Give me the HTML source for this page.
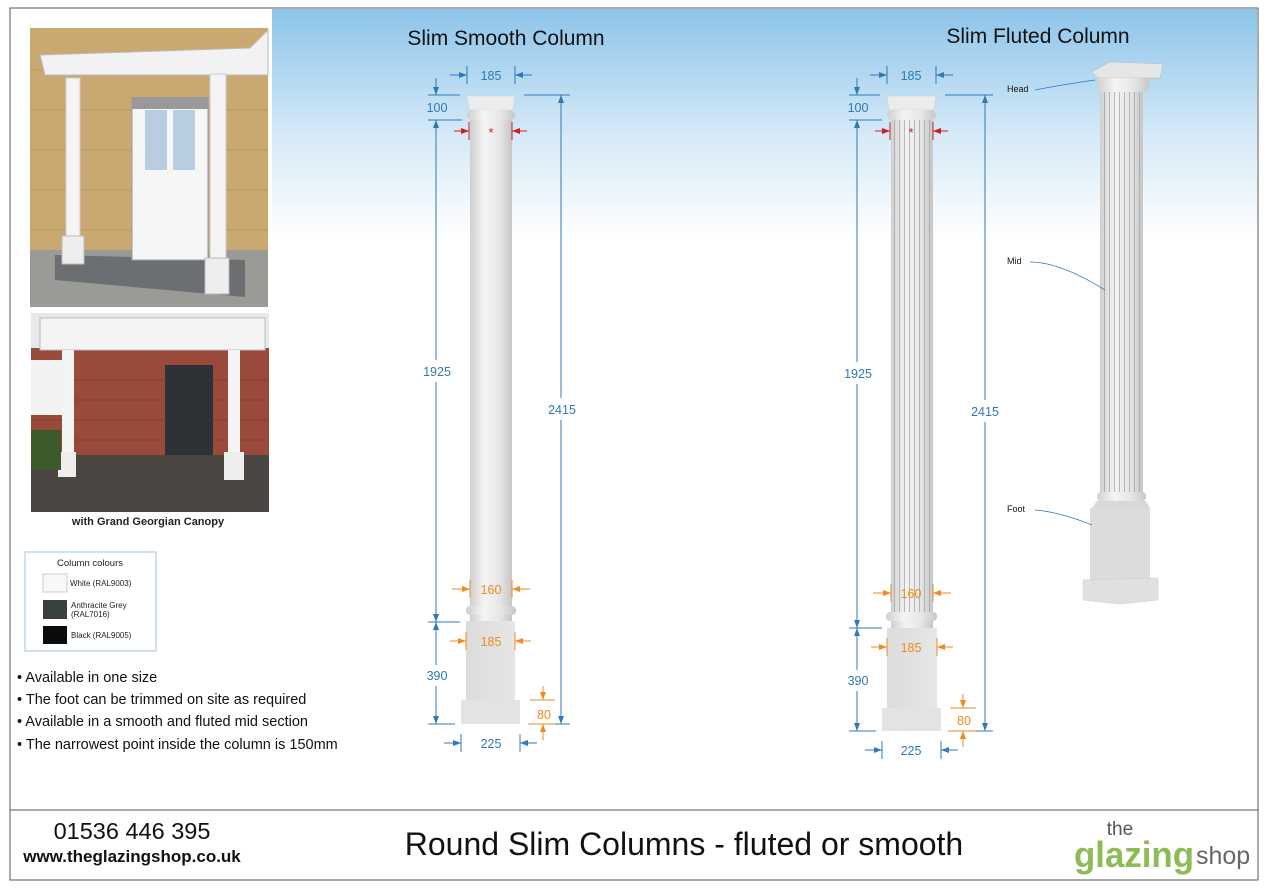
<!DOCTYPE html>
<html><head><meta charset="utf-8"><style>
body{margin:0;background:#fff;width:1268px;height:886px;overflow:hidden;font-family:"Liberation Sans",sans-serif}
</style></head><body>
<svg width="1268" height="886" viewBox="0 0 1268 886" xmlns="http://www.w3.org/2000/svg" font-family="Liberation Sans, sans-serif">
<defs>
<linearGradient id="sky" x1="0" y1="0" x2="0" y2="1">
<stop offset="0" stop-color="#8cc4ea"/><stop offset="0.55" stop-color="#d6eaf7"/><stop offset="1" stop-color="#ffffff"/>
</linearGradient>
<linearGradient id="cyl" x1="0" y1="0" x2="1" y2="0">
<stop offset="0" stop-color="#cfcfcf"/><stop offset="0.35" stop-color="#f4f4f4"/><stop offset="0.7" stop-color="#e6e6e6"/><stop offset="1" stop-color="#c6c6c6"/>
</linearGradient>
<linearGradient id="box" x1="0" y1="0" x2="1" y2="0">
<stop offset="0" stop-color="#dcdcdc"/><stop offset="1" stop-color="#e6e6e6"/>
</linearGradient>
<pattern id="flute" width="5" height="10" patternUnits="userSpaceOnUse">
<rect width="5" height="10" fill="none"/><line x1="4.5" y1="0" x2="4.5" y2="10" stroke="#a8a8a8" stroke-width="0.8"/>
</pattern>
<marker id="ab" markerWidth="8" markerHeight="6" refX="8" refY="3" orient="auto"><path d="M0,0 L8,3 L0,6 z" fill="#2f79b8"/></marker>
<marker id="ao" markerWidth="8" markerHeight="6" refX="8" refY="3" orient="auto"><path d="M0,0 L8,3 L0,6 z" fill="#f08a1e"/></marker>
<marker id="ar" markerWidth="8" markerHeight="6" refX="8" refY="3" orient="auto"><path d="M0,0 L8,3 L0,6 z" fill="#d21d1d"/></marker>
</defs>
<rect x="10" y="8" width="1248" height="872" fill="#fff" stroke="#555" stroke-width="1"/>
<rect x="272" y="9" width="985" height="230" fill="url(#sky)"/>
<line x1="10" y1="810" x2="1258" y2="810" stroke="#555"/>

<!-- photo 1 -->
<rect x="30" y="28" width="238" height="279" fill="#c9a971"/>
<g stroke="#a88a55" stroke-width="1" opacity="0.6">
<line x1="30" y1="70" x2="268" y2="70"/><line x1="30" y1="110" x2="268" y2="110"/><line x1="30" y1="150" x2="268" y2="150"/><line x1="30" y1="190" x2="268" y2="190"/><line x1="30" y1="230" x2="268" y2="230"/>
</g>
<polygon points="30,250 268,250 268,307 30,307" fill="#9a9a96"/>
<polygon points="55,255 245,260 245,297 55,280" fill="#6c6f72"/>
<rect x="132" y="98" width="76" height="162" fill="#f6f6f6" stroke="#999"/>
<rect x="145" y="110" width="22" height="60" fill="#b9cde0"/><rect x="173" y="110" width="22" height="60" fill="#b9cde0"/>
<rect x="132" y="97" width="76" height="12" fill="#999"/>
<polygon points="40,55 250,48 268,30 268,75 45,75" fill="#f2f2f2" stroke="#bbb"/>
<rect x="66" y="78" width="14" height="160" fill="#f4f4f4" stroke="#ccc"/><rect x="62" y="236" width="22" height="28" fill="#eee" stroke="#bbb"/>
<rect x="210" y="74" width="16" height="186" fill="#f4f4f4" stroke="#ccc"/><rect x="205" y="258" width="24" height="36" fill="#eee" stroke="#bbb"/>

<!-- photo 2 -->
<rect x="31" y="313" width="238" height="199" fill="#9a4a3a"/>
<g stroke="#7b3a2e" stroke-width="1" opacity="0.6">
<line x1="31" y1="380" x2="269" y2="380"/><line x1="31" y1="400" x2="269" y2="400"/><line x1="31" y1="420" x2="269" y2="420"/><line x1="31" y1="440" x2="269" y2="440"/>
</g>
<rect x="31" y="313" width="238" height="35" fill="#e6e8ea"/>
<rect x="40" y="318" width="225" height="32" fill="#f4f4f4" stroke="#bbb"/>
<rect x="31" y="360" width="40" height="55" fill="#f2f2f2"/>
<rect x="165" y="365" width="48" height="95" fill="#2e3236"/>
<rect x="31" y="455" width="238" height="57" fill="#4a4540"/>
<rect x="62" y="350" width="12" height="105" fill="#f4f4f4"/><rect x="58" y="452" width="18" height="25" fill="#eee"/>
<rect x="228" y="350" width="12" height="105" fill="#f4f4f4"/><rect x="224" y="452" width="20" height="28" fill="#eee"/>
<rect x="31" y="430" width="30" height="40" fill="#3d5a2a"/>
<text x="148" y="525" font-size="11" font-weight="bold" text-anchor="middle" fill="#222">with Grand Georgian Canopy</text>

<!-- legend -->
<rect x="25" y="552" width="131" height="99" fill="#fff" stroke="#9cc4e4"/>
<text x="90" y="566" font-size="9.5" text-anchor="middle" fill="#222">Column colours</text>
<rect x="43" y="574" width="24" height="18" fill="#f8f8f8" stroke="#ccc"/>
<text x="70" y="586" font-size="8" fill="#222">White (RAL9003)</text>
<rect x="43" y="600" width="24" height="19" fill="#38413f"/>
<text x="71" y="608" font-size="8" fill="#222">Anthracite Grey</text><text x="71" y="617" font-size="8" fill="#222">(RAL7016)</text>
<rect x="43" y="626" width="24" height="18" fill="#0b0b0d"/>
<text x="71" y="638" font-size="8" fill="#222">Black (RAL9005)</text>

<g font-size="14.5" fill="#111">
<text x="17" y="682">• Available in one size</text>
<text x="17" y="704">• The foot can be trimmed on site as required</text>
<text x="17" y="726">• Available in a smooth and fluted mid section</text>
<text x="17" y="749">• The narrowest point inside the column is 150mm</text>
</g>

<text x="506" y="45" font-size="21" text-anchor="middle" fill="#111">Slim Smooth Column</text>
<text x="1038" y="43" font-size="21" text-anchor="middle" fill="#111">Slim Fluted Column</text>

<!-- column 1 -->
<rect x="470" y="120" width="42" height="487" fill="url(#cyl)"/>
<polygon points="467,96 515,96 513,110 469,110" fill="#ececec" stroke="#ccc" stroke-width="0.5"/>
<rect x="467" y="110" width="48" height="10" rx="5" fill="url(#cyl)"/>
<rect x="466" y="606" width="50" height="9" rx="4" fill="url(#cyl)"/>
<rect x="470" y="615" width="42" height="6" fill="url(#cyl)"/>
<rect x="466" y="621" width="49" height="80" fill="url(#box)"/>
<rect x="461" y="700" width="59" height="24" fill="#e3e3e3"/>

<!-- column 2 -->
<rect x="891" y="120" width="42" height="494" fill="url(#cyl)"/>
<rect x="891" y="120" width="42" height="494" fill="url(#flute)"/>
<polygon points="887,96 936,96 934,110 889,110" fill="#ececec" stroke="#ccc" stroke-width="0.5"/>
<rect x="887" y="110" width="49" height="10" rx="5" fill="url(#cyl)"/>
<rect x="886" y="612" width="51" height="9" rx="4" fill="url(#cyl)"/>
<rect x="891" y="621" width="42" height="7" fill="url(#cyl)"/>
<rect x="887" y="628" width="50" height="80" fill="url(#box)"/>
<rect x="882" y="708" width="59" height="23" fill="#e3e3e3"/>

<!-- column 3 -->
<polygon points="1092,72 1110,62 1163,64 1160,78 1098,78" fill="#e6e6e6" stroke="#bbb" stroke-width="0.5"/>
<path d="M1098,78 L1148,78 Q1152,88 1146,92 L1100,92 Q1094,86 1098,78z" fill="url(#cyl)"/>
<rect x="1100" y="92" width="43" height="400" fill="url(#cyl)"/>
<rect x="1100" y="92" width="43" height="400" fill="url(#flute)"/>
<rect x="1097" y="492" width="49" height="9" rx="4" fill="url(#cyl)"/>
<polygon points="1097,501 1146,501 1150,508 1092,508" fill="#d8d8d8"/>
<polygon points="1090,508 1150,508 1150,580 1090,580" fill="#dcdcdc"/>
<polygon points="1083,580 1158,578 1158,600 1120,604 1083,600" fill="#e0e0e0" stroke="#ccc" stroke-width="0.5"/>
<g fill="none" stroke="#2f79b8" stroke-width="0.8">
<path d="M1035,90 Q1060,85 1095,80"/><path d="M1030,262 Q1060,262 1105,290"/><path d="M1035,510 Q1060,512 1092,525"/>
</g>
<g font-size="9" fill="#111"><text x="1007" y="92">Head</text><text x="1007" y="264">Mid</text><text x="1007" y="512">Foot</text></g>

<!-- dims column 1 -->
<g stroke="#2f79b8" stroke-width="1" fill="none">
<line x1="467" y1="66" x2="467" y2="84"/><line x1="515" y1="66" x2="515" y2="84"/>
<line x1="450" y1="75" x2="467" y2="75" marker-end="url(#ab)"/><line x1="532" y1="75" x2="515" y2="75" marker-end="url(#ab)"/>
<line x1="428" y1="95" x2="460" y2="95"/><line x1="428" y1="120" x2="462" y2="120"/>
<line x1="436" y1="78" x2="436" y2="95" marker-end="url(#ab)"/>
<line x1="436" y1="360" x2="436" y2="120" marker-end="url(#ab)"/><line x1="436" y1="382" x2="436" y2="622" marker-end="url(#ab)"/>
<line x1="428" y1="622" x2="460" y2="622"/>
<line x1="436" y1="665" x2="436" y2="622" marker-end="url(#ab)"/><line x1="436" y1="686" x2="436" y2="724" marker-end="url(#ab)"/>
<line x1="428" y1="724" x2="455" y2="724"/>
<line x1="524" y1="95" x2="570" y2="95"/><line x1="530" y1="724" x2="570" y2="724"/>
<line x1="561" y1="398" x2="561" y2="95" marker-end="url(#ab)"/><line x1="561" y1="420" x2="561" y2="724" marker-end="url(#ab)"/>
<line x1="461" y1="734" x2="461" y2="752"/><line x1="520" y1="734" x2="520" y2="752"/>
<line x1="444" y1="743" x2="461" y2="743" marker-end="url(#ab)"/><line x1="537" y1="743" x2="520" y2="743" marker-end="url(#ab)"/>
</g>
<g font-size="12.5" fill="#2f79b8" text-anchor="middle">
<text x="491" y="80">185</text><text x="437" y="112">100</text><text x="437" y="376">1925</text><text x="437" y="680">390</text><text x="562" y="414">2415</text><text x="491" y="748">225</text>
</g>
<g stroke="#d21d1d" stroke-width="1">
<line x1="469" y1="122" x2="469" y2="140"/><line x1="512" y1="122" x2="512" y2="140"/>
<line x1="454" y1="131" x2="469" y2="131" marker-end="url(#ar)"/><line x1="527" y1="131" x2="512" y2="131" marker-end="url(#ar)"/>
</g>
<text x="491" y="137" font-size="13" fill="#d21d1d" text-anchor="middle">*</text>
<g stroke="#f08a1e" stroke-width="1">
<line x1="470" y1="580" x2="470" y2="598"/><line x1="512" y1="580" x2="512" y2="598"/>
<line x1="452" y1="589" x2="470" y2="589" marker-end="url(#ao)"/><line x1="530" y1="589" x2="512" y2="589" marker-end="url(#ao)"/>
<line x1="466" y1="632" x2="466" y2="650"/><line x1="515" y1="632" x2="515" y2="650"/>
<line x1="450" y1="641" x2="466" y2="641" marker-end="url(#ao)"/><line x1="531" y1="641" x2="515" y2="641" marker-end="url(#ao)"/>
<line x1="530" y1="700" x2="555" y2="700"/><line x1="528" y1="724" x2="555" y2="724"/>
<line x1="543" y1="686" x2="543" y2="700" marker-end="url(#ao)"/><line x1="543" y1="740" x2="543" y2="724" marker-end="url(#ao)"/>
</g>
<g font-size="12.5" fill="#f08a1e" text-anchor="middle"><text x="491" y="594">160</text><text x="491" y="646">185</text><text x="544" y="719">80</text></g>

<!-- dims column 2 -->
<g stroke="#2f79b8" stroke-width="1" fill="none">
<line x1="887" y1="66" x2="887" y2="84"/><line x1="936" y1="66" x2="936" y2="84"/>
<line x1="870" y1="75" x2="887" y2="75" marker-end="url(#ab)"/><line x1="953" y1="75" x2="936" y2="75" marker-end="url(#ab)"/>
<line x1="849" y1="95" x2="880" y2="95"/><line x1="849" y1="120" x2="882" y2="120"/>
<line x1="857" y1="78" x2="857" y2="95" marker-end="url(#ab)"/>
<line x1="857" y1="362" x2="857" y2="120" marker-end="url(#ab)"/><line x1="857" y1="384" x2="857" y2="628" marker-end="url(#ab)"/>
<line x1="849" y1="628" x2="882" y2="628"/>
<line x1="857" y1="670" x2="857" y2="628" marker-end="url(#ab)"/><line x1="857" y1="691" x2="857" y2="731" marker-end="url(#ab)"/>
<line x1="849" y1="731" x2="876" y2="731"/>
<line x1="945" y1="95" x2="993" y2="95"/><line x1="950" y1="731" x2="993" y2="731"/>
<line x1="985" y1="400" x2="985" y2="95" marker-end="url(#ab)"/><line x1="985" y1="422" x2="985" y2="731" marker-end="url(#ab)"/>
<line x1="882" y1="741" x2="882" y2="759"/><line x1="941" y1="741" x2="941" y2="759"/>
<line x1="865" y1="750" x2="882" y2="750" marker-end="url(#ab)"/><line x1="958" y1="750" x2="941" y2="750" marker-end="url(#ab)"/>
</g>
<g font-size="12.5" fill="#2f79b8" text-anchor="middle">
<text x="911" y="80">185</text><text x="858" y="112">100</text><text x="858" y="378">1925</text><text x="858" y="685">390</text><text x="985" y="416">2415</text><text x="911" y="755">225</text>
</g>
<g stroke="#d21d1d" stroke-width="1">
<line x1="890" y1="122" x2="890" y2="140"/><line x1="933" y1="122" x2="933" y2="140"/>
<line x1="875" y1="131" x2="890" y2="131" marker-end="url(#ar)"/><line x1="948" y1="131" x2="933" y2="131" marker-end="url(#ar)"/>
</g>
<text x="911" y="137" font-size="13" fill="#d21d1d" text-anchor="middle">*</text>
<g stroke="#f08a1e" stroke-width="1">
<line x1="891" y1="584" x2="891" y2="602"/><line x1="933" y1="584" x2="933" y2="602"/>
<line x1="873" y1="593" x2="891" y2="593" marker-end="url(#ao)"/><line x1="951" y1="593" x2="933" y2="593" marker-end="url(#ao)"/>
<line x1="887" y1="638" x2="887" y2="656"/><line x1="937" y1="638" x2="937" y2="656"/>
<line x1="871" y1="647" x2="887" y2="647" marker-end="url(#ao)"/><line x1="953" y1="647" x2="937" y2="647" marker-end="url(#ao)"/>
<line x1="950" y1="708" x2="976" y2="708"/><line x1="948" y1="731" x2="976" y2="731"/>
<line x1="963" y1="694" x2="963" y2="708" marker-end="url(#ao)"/><line x1="963" y1="747" x2="963" y2="731" marker-end="url(#ao)"/>
</g>
<g font-size="12.5" fill="#f08a1e" text-anchor="middle"><text x="911" y="598">160</text><text x="911" y="652">185</text><text x="964" y="725">80</text></g>

<!-- footer -->
<text x="132" y="839" font-size="23.5" text-anchor="middle" fill="#111">01536 446 395</text>
<text x="132" y="862" font-size="17" font-weight="bold" text-anchor="middle" fill="#111">www.theglazingshop.co.uk</text>
<text x="684" y="855" font-size="32" text-anchor="middle" fill="#111">Round Slim Columns - fluted or smooth</text>
<text x="1120" y="835" font-size="19" text-anchor="middle" fill="#555">the</text>
<text x="1074" y="867" font-size="36" font-weight="bold" fill="#8dbb55" textLength="120" lengthAdjust="spacingAndGlyphs">glazing</text>
<text x="1196" y="864" font-size="25" fill="#666">shop</text>
</svg>
</body></html>
